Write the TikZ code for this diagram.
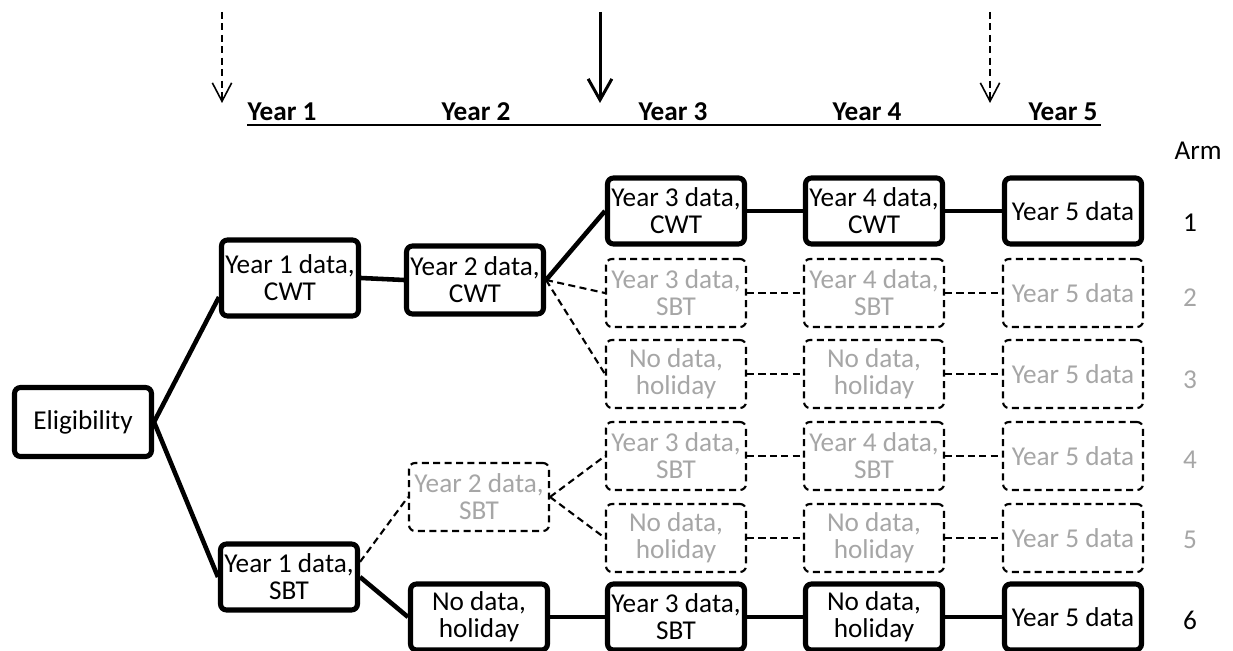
\documentclass[tikz,border=0pt]{standalone}
\usepackage{fontspec}
\setmainfont{Carlito}
\usetikzlibrary{arrows.meta}
\definecolor{greytext}{RGB}{166,166,166}

\begin{document}
\begin{tikzpicture}[x=0.02cm, y=-0.02cm, font=\fontsize{15.5}{15.4}\selectfont]
	\tikzstyle{every node}=[align=center]
	\tikzstyle{stage}=[draw=black, fill=white, rounded corners=3.4pt, line width=2.9pt, minimum width=2.74cm, minimum height=1.32cm, inner sep=1pt]
	\tikzstyle{option}=[stage, line width=1.2pt, dash pattern=on 4pt off 2.5pt, text=greytext, minimum width=2.8cm, minimum height=1.36cm]
	\tikzstyle{taken}=[line width=2.6pt]
	\tikzstyle{untaken}=[line width=1.2pt, dash pattern=on 4pt off 2.5pt]
	\useasboundingbox (0,0) rectangle (1233,651);

	% time line
	\node[font=\fontsize{15.5}{15.4}\selectfont\bfseries] (h1) at (282,112) {Year 1};
	\node[font=\fontsize{15.5}{15.4}\selectfont\bfseries] (h2) at (476,112) {Year 2};
	\node[font=\fontsize{15.5}{15.4}\selectfont\bfseries] (h3) at (673,112) {Year 3};
	\node[font=\fontsize{15.5}{15.4}\selectfont\bfseries] (h4) at (867,112) {Year 4};
	\node[font=\fontsize{15.5}{15.4}\selectfont\bfseries] (h5) at (1063,112) {Year 5};
	\coordinate (ul1) at (247,125);
	\coordinate (ul2) at (1101,125);
	\draw[line width=1.2pt] (ul1) -- (ul2);

	\coordinate (t1) at (222,12);  \coordinate (b1) at (222,103);
	\coordinate (t2) at (600,12);  \coordinate (b2) at (600,103);
	\coordinate (t3) at (990,12);  \coordinate (b3) at (990,103);
	\draw[line width=0.9pt, dash pattern=on 4pt off 2.5pt, -{Straight Barb[length=10.5pt, width=11pt]}] (t1) -- (b1);
	\draw[line width=1.7pt, -{Straight Barb[length=12pt, width=13.5pt]}] (t2) -- (b2);
	\draw[line width=0.9pt, dash pattern=on 4pt off 2.5pt, -{Straight Barb[length=10.5pt, width=11pt]}] (t3) -- (b3);

	% boxes
	\node[stage, minimum height=1.38cm] (elig) at (83,422) {Eligibility};
	\node[stage, minimum height=1.52cm] (y1c) at (290,278) {Year 1 data,\\CWT};
	\node[stage] (y1s) at (289,577) {Year 1 data,\\SBT};
	\node[stage, minimum height=1.36cm] (y2c) at (475,280) {Year 2 data,\\CWT};
	\node[option] (y2s) at (479,497) {Year 2 data,\\SBT};
	\node[stage] (y2h) at (479,617) {No data,\\holiday};

	\node[stage]  (13) at (676,211) {Year 3 data,\\CWT};
	\node[stage]  (14) at (874,211) {Year 4 data,\\CWT};
	\node[stage]  (15) at (1073,211) {Year 5 data};
	\node[option] (23) at (676,293) {Year 3 data,\\SBT};
	\node[option] (24) at (874,293) {Year 4 data,\\SBT};
	\node[option] (25) at (1073,293) {Year 5 data};
	\node[option] (33) at (676,374) {No data,\\holiday};
	\node[option] (34) at (874,374) {No data,\\holiday};
	\node[option] (35) at (1073,374) {Year 5 data};
	\node[option] (43) at (676,456) {Year 3 data,\\SBT};
	\node[option] (44) at (874,456) {Year 4 data,\\SBT};
	\node[option] (45) at (1073,456) {Year 5 data};
	\node[option] (53) at (676,538) {No data,\\holiday};
	\node[option] (54) at (874,538) {No data,\\holiday};
	\node[option] (55) at (1073,538) {Year 5 data};
	\node[stage]  (63) at (676,617) {Year 3 data,\\SBT};
	\node[stage]  (64) at (874,617) {No data,\\holiday};
	\node[stage]  (65) at (1073,617) {Year 5 data};

	% arms
	\node (arm) at (1198,151) {Arm};
	\node (n1) at (1190,223) {1};
	\node[text=greytext] (n2) at (1190,298) {2};
	\node[text=greytext] (n3) at (1190,380) {3};
	\node[text=greytext] (n4) at (1190,460) {4};
	\node[text=greytext] (n5) at (1190,540) {5};
	\node (n6) at (1190,620) {6};

	% connectors
	\draw[taken] (elig.east) -- (y1c.195);
	\draw[taken] (elig.east) -- (y1s.west);
	\draw[taken] (y1c.east) -- (y2c.west);
	\draw[taken] (y2c.east) -- (13.west);
	\draw[untaken] (y2c.east) -- (23.west);
	\draw[untaken] (y2c.east) -- (33.west);
	\draw[untaken] (y1s.12) -- (y2s.west);
	\draw[taken] (y1s.east) -- (y2h.west);
	\draw[untaken] (y2s.east) -- (43.west);
	\draw[untaken] (y2s.east) -- (53.west);
	\draw[taken] (y2h.east) -- (63.west);

	\draw[taken] (13) -- (14);  \draw[taken] (14) -- (15);
	\draw[untaken] (23) -- (24);  \draw[untaken] (24) -- (25);
	\draw[untaken] (33) -- (34);  \draw[untaken] (34) -- (35);
	\draw[untaken] (43) -- (44);  \draw[untaken] (44) -- (45);
	\draw[untaken] (53) -- (54);  \draw[untaken] (54) -- (55);
	\draw[taken] (63) -- (64);  \draw[taken] (64) -- (65);
\end{tikzpicture}
\end{document}
